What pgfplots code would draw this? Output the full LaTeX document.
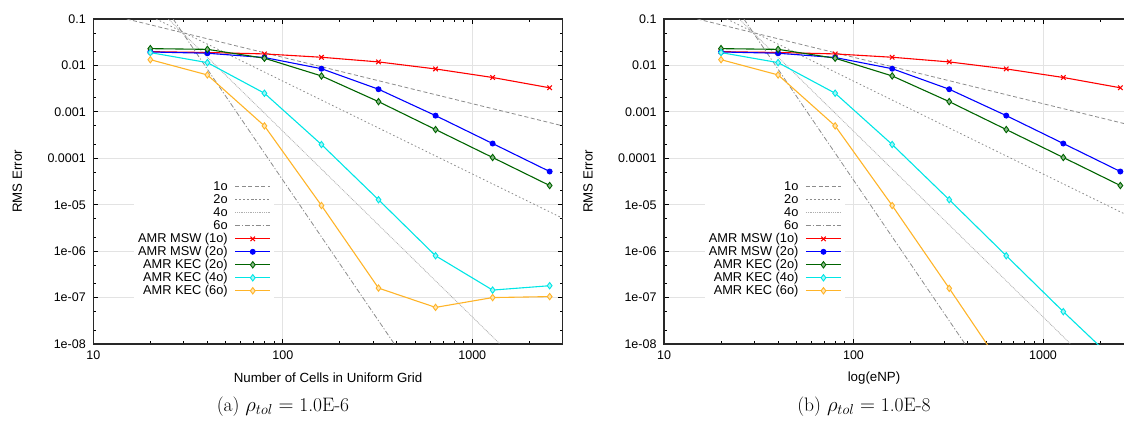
\documentclass[border=0pt]{standalone}
\usepackage{fontspec}
\usepackage{pgfplots}
\pgfplotsset{compat=1.18}
\newfontfamily\plotfont{Liberation Sans}
\definecolor{cRed}{RGB}{255,0,0}
\definecolor{cBlue}{RGB}{0,0,255}
\definecolor{cGreen}{RGB}{0,100,0}
\definecolor{cCyan}{RGB}{0,230,230}
\definecolor{cOrange}{RGB}{255,180,40}
\definecolor{refgray}{RGB}{140,140,140}
\definecolor{refgrayl}{RGB}{175,175,175}
\definecolor{framecol}{RGB}{40,40,40}
\tikzset{
  r1/.style={refgray, line width=0.8pt, dash pattern=on 4pt off 2.5pt},
  r2/.style={refgray, line width=0.8pt, dash pattern=on 1.6pt off 2.4pt},
  r4/.style={refgrayl, line width=0.8pt, dash pattern=on 0.9pt off 0.9pt},
  r6/.style={refgray, line width=0.8pt, dash pattern=on 5pt off 2pt on 1.2pt off 2pt},
  sRed/.style={cRed, line width=1.1pt, mark=x, mark size=3.2pt, mark options={solid, line width=1.1pt}},
  sBlue/.style={cBlue, line width=1.1pt, mark=*, mark size=2.4pt, mark options={solid}},
  sGreen/.style={cGreen, line width=1.1pt, mark=diamond*, mark size=3.2pt, mark options={solid, fill=cGreen!45!white, line width=0.9pt}},
  sCyan/.style={cCyan, line width=1.1pt, mark=diamond*, mark size=3.2pt, mark options={solid, fill=cCyan!35!white, line width=0.9pt}},
  sOrange/.style={cOrange, line width=1.1pt, mark=diamond*, mark size=3.2pt, mark options={solid, fill=cOrange!35!white, line width=0.9pt}},
}
\pgfplotsset{
  every axis/.append style={
    xmode=log, ymode=log, scale only axis,
    width=469.4pt, height=325pt,
    xmin=10, xmax=3000, ymin=1e-8, ymax=0.1,
    axis line style={framecol, line width=1.1pt},
    xtick={10,100,1000}, xticklabels={10,100,1000},
    minor xtick={20,30,40,50,60,70,80,90,200,300,400,500,600,700,800,900,2000,3000},
    ytick={1e-8,1e-7,1e-6,1e-5,1e-4,1e-3,1e-2,1e-1},
    yticklabels={1e-08,1e-07,1e-06,1e-05,0.0001,0.001,0.01,0.1},
    minor ytick={2e-8,5e-8,2e-7,5e-7,2e-6,5e-6,2e-5,5e-5,2e-4,5e-4,2e-3,5e-3,2e-2,5e-2},
    major tick length=5pt, minor tick length=3pt,
    tick style={black, line width=0.8pt},
    grid=major, major grid style={gray!22, line width=0.8pt},
    tick label style={font=\plotfont\fontsize{12.5}{14}\selectfont},
    yticklabel style={xshift=-4pt},
    xticklabel style={yshift=-3pt},
    ylabel={RMS Error},
    ylabel style={font=\plotfont\fontsize{13.3}{15}\selectfont, at={(axis description cs:-0.162,0.5)}, anchor=center},
    xlabel style={font=\plotfont\fontsize{13.3}{15}\selectfont, at={(axis description cs:0.5,0)}, anchor=center, yshift=-34pt},
    legend plot pos=right,
    legend cell align=right,
    legend style={at={(0.385,0.14)}, anchor=south east, draw=none, fill=white,
      font=\plotfont\fontsize{12.8}{14}\selectfont,
      inner xsep=3pt, inner ysep=1pt, row sep=0pt,
      nodes={inner xsep=1pt, inner ysep=0.5pt, text height=9.2pt, text depth=2.8pt},
      /tikz/every odd column/.append style={column sep=6pt}},
    legend image code/.code={\draw[mark repeat=2,mark phase=2] plot coordinates {(0pt,0pt)(17.5pt,0pt)(35pt,0pt)};},
  }
}
\begin{document}
\begin{tikzpicture}
\path[use as bounding box] (0pt,0pt) rectangle (1124pt,423pt);
% ---------------- left panel ----------------
\begin{axis}[at={(93.3pt,79pt)}, anchor=south west,
  xlabel={Number of Cells in Uniform Grid}]
\addplot[r1] coordinates {(15,0.1) (3000,5.0e-4)};
\addlegendentry{1o}
\addplot[r2] coordinates {(21.45,0.1) (3000,5.11e-6)};
\addlegendentry{2o}
\addplot[r4] coordinates {(24.9,0.1) (1400,1e-8)};
\addlegendentry{4o}
\addplot[r6] coordinates {(26.4,0.1) (388,1e-8)};
\addlegendentry{6o}
\addplot[sRed] coordinates {(20,0.0198) (40,0.0190) (80,0.0177) (160,0.0150) (320,0.0119) (640,0.0084) (1280,0.0055) (2560,0.0033)};
\addlegendentry{AMR MSW (1o)}
\addplot[sBlue] coordinates {(20,0.0195) (40,0.0183) (80,0.0148) (160,0.0085) (320,0.00307) (640,8.3e-4) (1280,2.08e-4) (2560,5.19e-5)};
\addlegendentry{AMR MSW (2o)}
\addplot[sGreen] coordinates {(20,0.0230) (40,0.0222) (80,0.0143) (160,0.00594) (320,0.00166) (640,4.16e-4) (1280,1.04e-4) (2560,2.59e-5)};
\addlegendentry{AMR KEC (2o)}
\addplot[sCyan] coordinates {(20,0.0189) (40,0.0115) (80,0.00252) (160,1.98e-4) (320,1.28e-5) (640,7.96e-7) (1280,1.45e-7) (2560,1.80e-7)};
\addlegendentry{AMR KEC (4o)}
\addplot[sOrange] coordinates {(20,0.0133) (40,0.00624) (80,4.99e-4) (160,9.6e-6) (320,1.6e-7) (640,6.15e-8) (1280,1.0e-7) (2560,1.05e-7)};
\addlegendentry{AMR KEC (6o)}
\end{axis}
% ---------------- right panel ----------------
\begin{axis}[at={(664pt,79pt)}, anchor=south west]
\addplot[r1] coordinates {(15,0.1) (3000,5.0e-4)};
\addlegendentry{1o}
\addplot[r2] coordinates {(21.45,0.1) (3000,5.11e-6)};
\addlegendentry{2o}
\addplot[r4] coordinates {(24.9,0.1) (1400,1e-8)};
\addlegendentry{4o}
\addplot[r6] coordinates {(26.4,0.1) (388,1e-8)};
\addlegendentry{6o}
\addplot[sRed] coordinates {(20,0.0198) (40,0.0190) (80,0.0177) (160,0.0150) (320,0.0119) (640,0.0084) (1280,0.0055) (2560,0.0033)};
\addlegendentry{AMR MSW (1o)}
\addplot[sBlue] coordinates {(20,0.0195) (40,0.0183) (80,0.0148) (160,0.0085) (320,0.00307) (640,8.3e-4) (1280,2.08e-4) (2560,5.19e-5)};
\addlegendentry{AMR MSW (2o)}
\addplot[sGreen] coordinates {(20,0.0230) (40,0.0222) (80,0.0143) (160,0.00594) (320,0.00166) (640,4.16e-4) (1280,1.04e-4) (2560,2.59e-5)};
\addlegendentry{AMR KEC (2o)}
\addplot[sCyan] coordinates {(20,0.0189) (40,0.0115) (80,0.00252) (160,1.98e-4) (320,1.28e-5) (640,7.96e-7) (1280,4.97e-8) (2560,3.4e-9)};
\addlegendentry{AMR KEC (4o)}
\addplot[sOrange] coordinates {(20,0.0133) (40,0.00624) (80,4.99e-4) (160,9.6e-6) (320,1.58e-7) (640,2.4e-9)};
\addlegendentry{AMR KEC (6o)}
\end{axis}
\node[font=\plotfont\fontsize{13.3}{15}\selectfont] at (874pt,45pt) {log(eNP)};
\node[font=\fontsize{19.5}{22}\selectfont] at (283pt,16pt) {(a)~$\rho_{tol}=\mbox{1.0E-6}$};
\node[font=\fontsize{19.5}{22}\selectfont] at (864pt,16pt) {(b)~$\rho_{tol}=\mbox{1.0E-8}$};
\end{tikzpicture}
\end{document}
